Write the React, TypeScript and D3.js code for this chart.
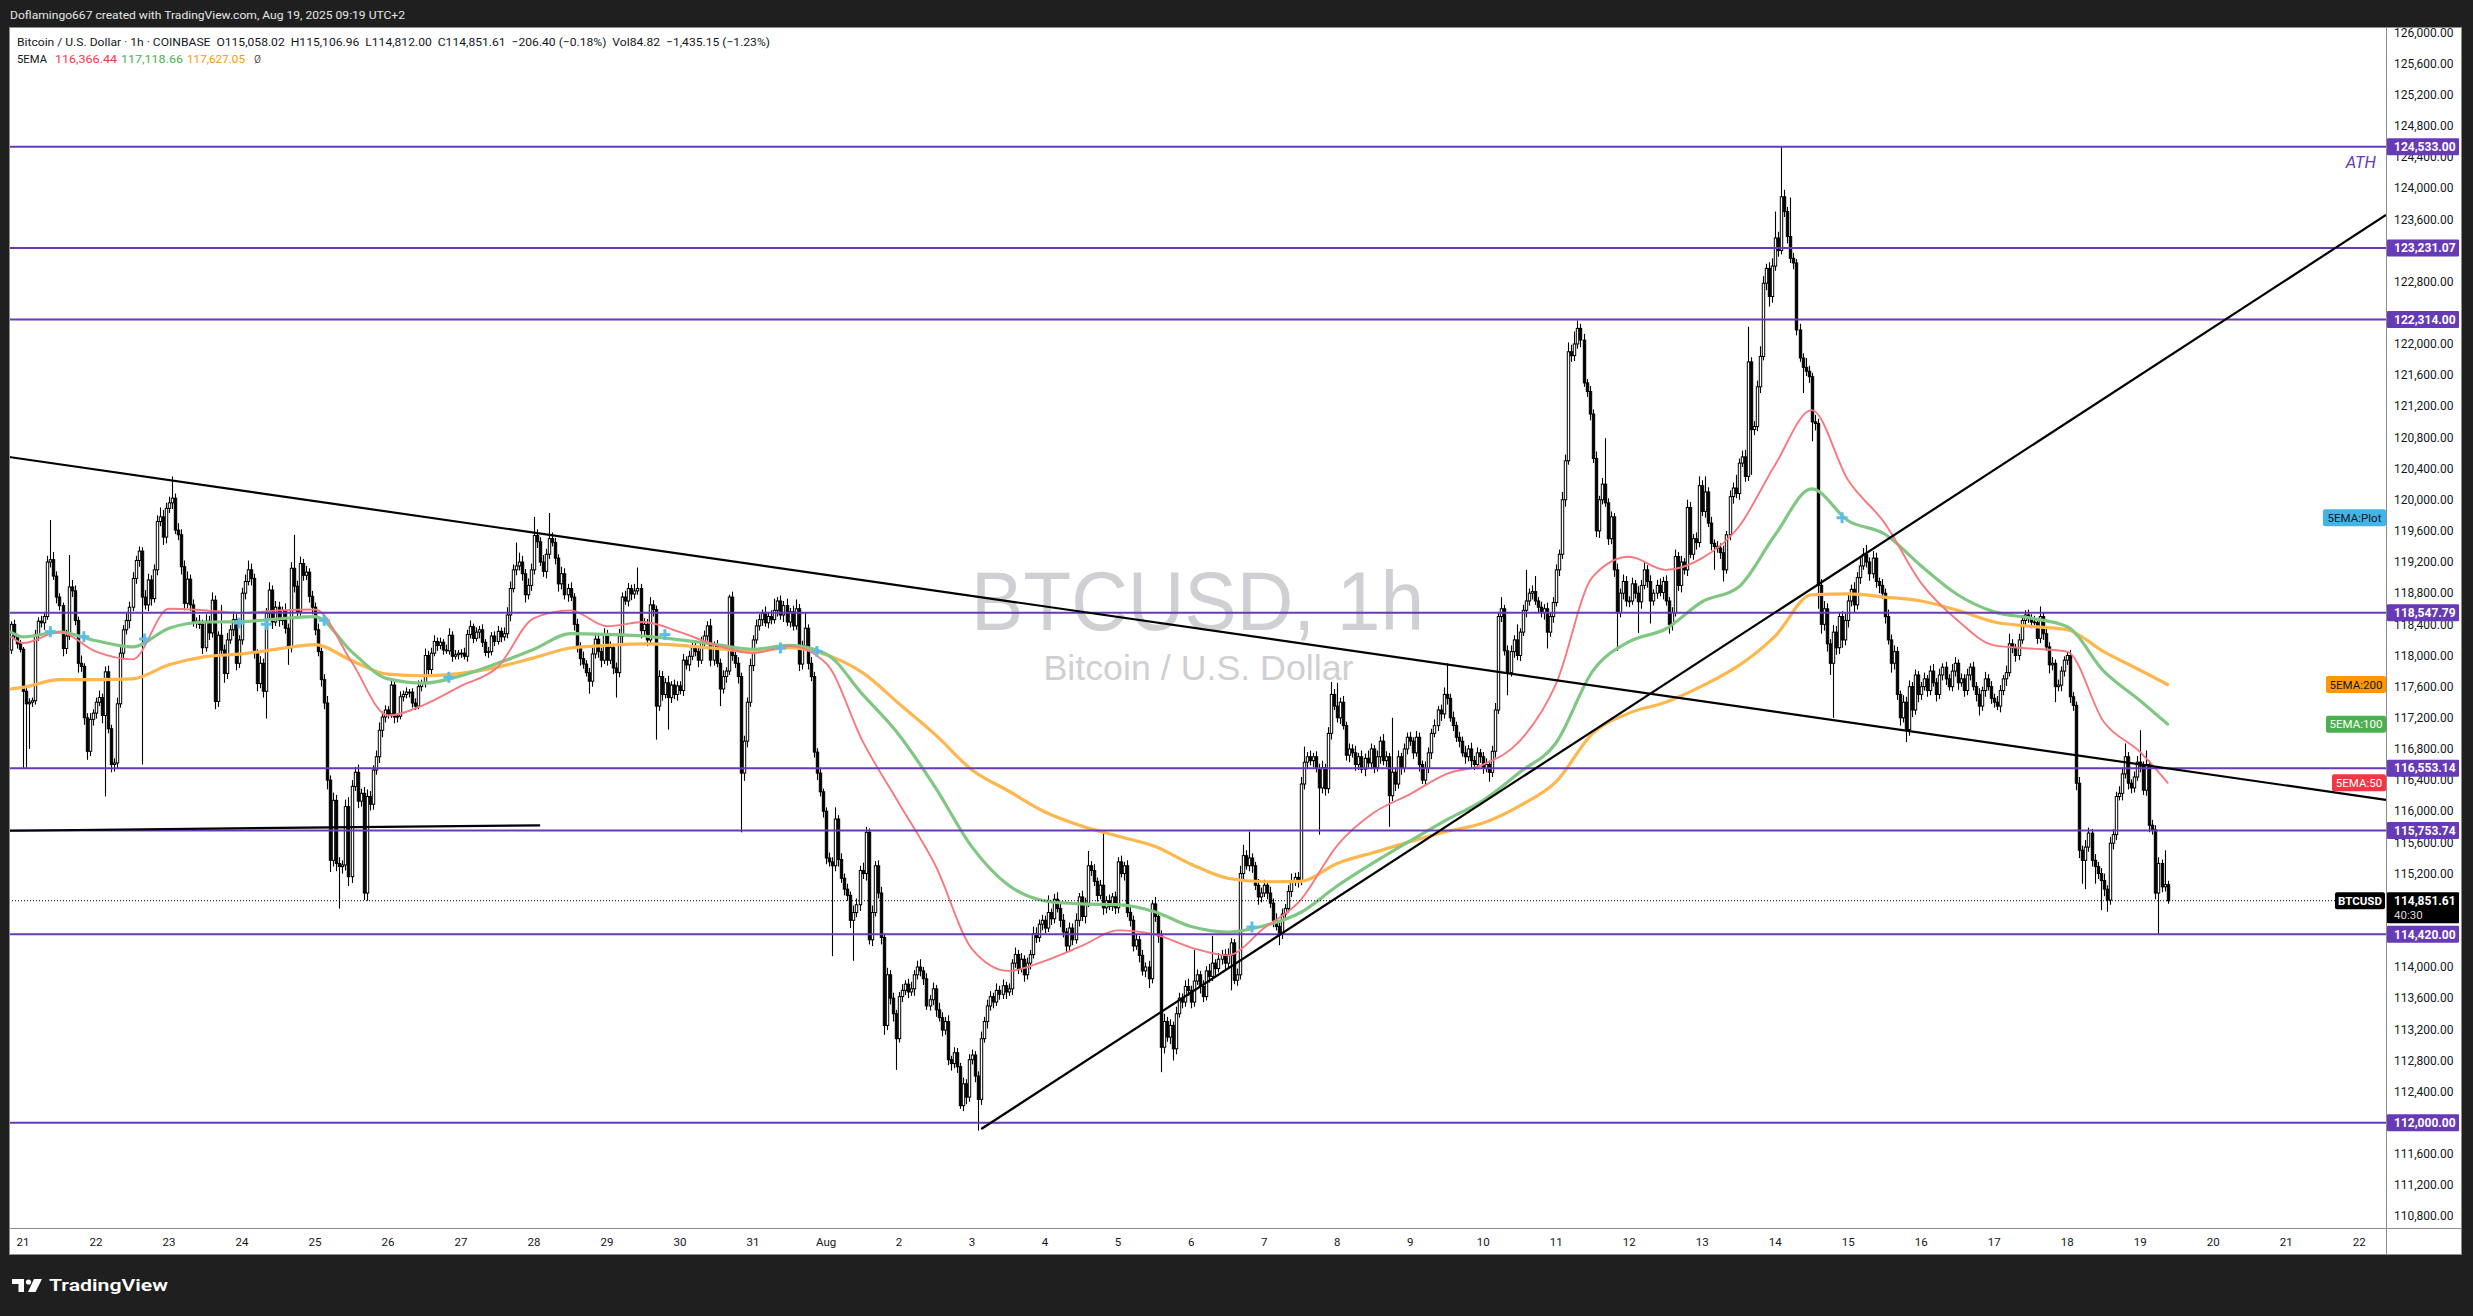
import * as d3 from "d3";
import { useEffect, useRef } from "react";

// BTCUSD 1h candles, Jul 20 20:00 -> Aug 19 09:00. open = previous close.
const FIRST_OPEN = 118070;

const closesByDay: number[][] = [
  [118400, 118250, 118150, 118080], // Jul 20
  [117540, 117380, 117400, 117420, 118270, 118440, 118420, 118500, 119200, 119230, 119020, 118750, 118640, 118090, 118250, 118880, 118830, 118450, 117900, 117860, 117200, 116770, 117180, 117260],
  [117400, 117460, 117230, 117790, 117060, 116600, 116620, 117380, 118030, 118330, 118450, 118620, 118990, 119220, 119340, 118750, 118650, 118970, 118730, 119100, 119720, 119780, 119520, 119890],
  [119960, 120020, 119610, 119550, 119140, 118670, 118980, 118650, 118420, 118440, 118400, 118100, 118440, 118290, 118710, 117410, 118260, 118070, 117770, 118200, 118330, 118460, 117900, 118200],
  [118800, 118950, 119100, 118990, 118030, 117640, 117900, 117540, 118540, 118840, 118430, 118620, 118450, 118580, 118350, 118100, 119120, 118890, 118560, 119180, 119030, 119070, 118760, 118620],
  [118330, 118050, 117690, 117390, 116400, 115370, 116140, 115330, 115290, 115310, 116060, 115160, 116320, 116500, 116130, 116230, 114950, 116190, 116090, 116530, 116700, 117040, 117210, 117300],
  [117250, 117620, 117210, 117220, 117470, 117500, 117530, 117530, 117390, 117350, 117600, 117640, 118000, 117820, 118030, 118180, 118130, 118170, 118070, 118060, 118260, 117990, 118010, 118030],
  [118030, 117990, 118270, 118370, 118220, 118300, 118330, 118170, 118040, 118050, 118250, 118180, 118310, 118240, 118280, 118520, 118860, 119100, 119150, 119200, 119050, 118780, 118900, 119100],
  [119540, 119460, 119200, 119080, 119300, 119500, 119450, 119250, 118920, 119050, 118780, 118860, 118750, 118400, 118110, 117960, 117890, 117780, 117670, 118020, 118210, 118050, 117940, 118270],
  [117940, 118100, 117840, 117780, 118250, 118750, 118700, 118860, 118790, 118830, 118860, 118320, 118400, 118200, 118650, 118590, 117350, 117730, 117500, 117650, 117460, 117620, 117500, 117610],
  [117550, 117940, 117880, 117990, 118100, 118050, 117940, 118160, 118250, 118380, 117940, 118130, 117900, 117570, 117730, 117800, 118750, 118000, 117900, 117730, 116490, 116900, 117400, 117870],
  [118200, 118380, 118460, 118540, 118420, 118500, 118460, 118580, 118700, 118520, 118640, 118430, 118560, 118380, 118600, 117890, 118120, 118350, 117900, 117730, 116760, 116490, 116250, 116000],
  [115400, 115350, 115300, 115900, 115380, 115140, 115000, 114920, 114600, 114700, 114800, 115240, 115200, 115730, 114350, 114700, 115300, 114950, 114380, 113250, 113900, 113600, 113400, 113080],
  [113620, 113700, 113780, 113680, 113720, 113900, 114000, 113950, 113850, 113500, 113580, 113720, 113450, 113350, 113190, 113300, 112810, 112760, 112900, 112720, 112220, 112500, 112330, 112810],
  [112870, 112600, 112300, 113080, 113300, 113500, 113620, 113550, 113700, 113650, 113760, 113680, 113720, 114050, 114160, 113980, 114100, 113900, 114050, 114160, 114430, 114380, 114550, 114600],
  [114500, 114700, 114620, 114870, 114750, 114600, 114450, 114270, 114500, 114350, 114600, 114900, 114650, 114820, 115300, 115240, 115100, 114920, 115050, 114760, 114850, 114780, 114900, 114760],
  [115350, 115200, 115300, 114700, 114600, 114270, 114350, 114150, 113950, 114000, 113850, 114810, 114650, 114400, 112970, 113300, 113100, 113250, 112950, 113400, 113600, 113550, 113750, 113700],
  [113550, 113820, 113900, 113750, 113620, 113950, 113880, 114050, 113980, 114100, 114160, 114050, 114150, 114310, 113830, 113900, 115200, 115430, 115300, 115400, 115300, 115050, 114900, 114950],
  [115050, 114950, 114820, 114600, 114520, 114420, 114680, 114750, 114970, 115100, 115150, 115100, 116350, 116630, 116700, 116650, 116700, 116550, 116300, 116560, 116290, 117000, 117500, 117350],
  [117200, 117400, 117100, 116720, 116800, 116750, 116600, 116700, 116540, 116680, 116620, 116800, 116560, 116700, 116900, 116650, 116700, 116200, 116500, 116350, 116700, 116550, 116800, 116950],
  [116900, 116750, 116950, 116600, 116400, 116550, 116750, 117000, 117100, 117300, 117250, 117500, 117450, 117200, 117100, 116950, 116900, 116750, 116700, 116800, 116650, 116600, 116750, 116700],
  [116550, 116600, 116500, 116770, 117300, 118500, 118600, 118060, 117780, 118050, 118200, 118000, 118300, 118580, 118700, 118800, 118820, 118700, 118620, 118550, 118600, 118300, 118500, 118680],
  [119100, 119300, 120000, 120500, 121900, 121850, 122000, 122200, 122050, 121500, 121390, 121100, 120530, 119600, 120000, 120200, 119960, 119500, 119780, 119100, 118550, 118800, 118950, 118700],
  [118700, 118920, 118800, 118690, 118900, 119100, 118950, 118700, 118800, 118900, 118810, 118950, 118700, 118400, 118550, 119270, 118900, 119200, 119100, 119900, 119300, 119500, 119450, 120180],
  [119850, 120100, 119700, 119440, 119400, 119380, 119320, 119100, 119550, 120040, 120150, 120080, 120470, 120550, 120300, 121770, 120900, 120940, 121450, 121840, 122780, 122970, 122610, 123000],
  [123360, 123200, 123890, 123700, 123380, 123100, 123040, 122180, 121820, 121700, 121650, 121580, 121000, 120980, 118900, 118400, 118600, 118150, 117900, 118300, 118100, 118500, 118200, 118450],
  [118700, 118850, 118650, 119000, 119150, 119300, 119200, 119050, 119250, 118950, 118900, 118800, 118500, 118200, 117900, 118050, 117500, 117200, 117400, 117050, 117600, 117300, 117750, 117500],
  [117600, 117700, 117550, 117800, 117650, 117500, 117750, 117850, 117700, 117600, 117800, 117900, 117650, 117700, 117550, 117750, 117850, 117600, 117500, 117350, 117550, 117700, 117600, 117450],
  [117400, 117350, 117550, 117700, 117780, 118150, 118100, 118000, 118200, 118450, 118520, 118480, 118430, 118420, 118220, 118500, 118280, 118110, 117880, 117900, 117600, 117620, 117800, 117940],
  [118000, 117470, 117360, 116360, 115500, 115370, 115540, 115720, 115370, 115290, 115200, 115110, 115000, 114860, 115590, 115700, 116190, 116230, 116480, 116700, 116360, 116300, 116440, 116630],
  [116580, 116270, 116600, 115820, 115760, 114950, 115330, 115030, 115058.02, 114851.61], // Aug 19
];

// upper / lower wick beyond the body, in units of $10
const upWickByDay: number[][] = [
  [4, 6, 3, 5],
  [3, 8, 5, 4, 6, 5, 7, 6, 8, 51, 10, 6, 5, 4, 8, 41, 9, 7, 5, 10, 4, 6, 8, 5],
  [6, 9, 5, 7, 8, 5, 6, 8, 10, 6, 9, 7, 8, 6, 6, 5, 9, 8, 6, 7, 8, 12, 9, 7],
  [8, 28, 6, 9, 7, 8, 10, 6, 7, 5, 8, 6, 9, 7, 10, 6, 5, 39, 7, 9, 6, 8, 7, 6],
  [7, 9, 12, 8, 6, 5, 9, 6, 7, 10, 6, 8, 7, 5, 9, 6, 8, 43, 7, 9, 6, 8, 5, 7],
  [6, 8, 5, 7, 9, 6, 10, 7, 8, 6, 9, 12, 8, 7, 10, 6, 8, 9, 7, 6, 8, 10, 7, 6],
  [5, 8, 6, 4, 7, 5, 6, 4, 5, 6, 8, 5, 9, 6, 7, 8, 5, 6, 4, 7, 9, 5, 6, 4],
  [5, 7, 6, 8, 4, 6, 5, 7, 4, 6, 5, 6, 7, 5, 8, 10, 9, 7, 30, 12, 8, 6, 9, 8],
  [24, 8, 6, 9, 7, 33, 8, 6, 5, 9, 7, 6, 8, 5, 7, 6, 9, 5, 6, 8, 7, 6, 5, 8],
  [6, 8, 5, 7, 9, 6, 8, 7, 5, 9, 27, 6, 8, 7, 10, 6, 5, 8, 7, 6, 9, 5, 7, 6],
  [6, 8, 5, 7, 6, 9, 5, 8, 7, 6, 9, 5, 7, 6, 8, 5, 3, 7, 6, 8, 5, 7, 6, 9],
  [6, 8, 7, 5, 9, 6, 8, 15, 5, 7, 6, 9, 5, 8, 12, 6, 7, 20, 5, 8, 6, 5, 7, 4],
  [5, 7, 6, 15, 5, 8, 6, 7, 5, 9, 8, 6, 10, 7, 5, 9, 6, 7, 8, 5, 9, 6, 7, 5],
  [6, 8, 5, 7, 9, 6, 8, 10, 5, 7, 6, 8, 5, 9, 7, 6, 8, 5, 7, 6, 5, 8, 6, 7],
  [7, 5, 6, 9, 6, 8, 7, 5, 9, 6, 8, 5, 7, 5, 9, 6, 8, 5, 7, 6, 9, 8, 6, 7],
  [6, 22, 5, 7, 9, 6, 8, 5, 7, 6, 9, 5, 8, 7, 19, 6, 8, 5, 7, 68, 6, 8, 5, 7],
  [6, 8, 5, 7, 9, 6, 8, 5, 7, 6, 8, 5, 9, 6, 7, 10, 6, 8, 5, 9, 7, 6, 8, 10],
  [6, 40, 7, 5, 8, 6, 9, 35, 5, 8, 6, 7, 9, 6, 5, 8, 10, 14, 7, 34, 6, 5, 8, 7],
  [7, 5, 8, 6, 9, 5, 7, 6, 8, 10, 6, 7, 9, 20, 6, 8, 5, 7, 6, 9, 5, 8, 16, 7],
  [30, 6, 8, 5, 7, 6, 9, 5, 8, 6, 10, 7, 5, 8, 6, 9, 7, 5, 70, 6, 8, 5, 7, 6],
  [7, 5, 8, 6, 5, 9, 7, 6, 8, 5, 7, 9, 40, 6, 8, 5, 7, 6, 9, 5, 8, 6, 7, 5],
  [6, 8, 5, 7, 9, 6, 15, 5, 7, 8, 6, 20, 5, 7, 40, 6, 8, 20, 5, 7, 6, 8, 5, 7],
  [7, 6, 10, 8, 12, 9, 16, 10, 6, 8, 5, 7, 6, 9, 5, 8, 59, 6, 7, 5, 8, 6, 9, 7],
  [6, 8, 5, 9, 7, 10, 6, 8, 5, 7, 9, 6, 8, 5, 7, 9, 6, 8, 5, 10, 7, 6, 8, 12],
  [7, 20, 6, 8, 5, 7, 6, 9, 5, 8, 7, 17, 6, 8, 9, 45, 6, 7, 8, 13, 9, 6, 8, 10],
  [34, 8, 64.3, 9, 6, 50, 7, 5, 8, 6, 12, 7, 5, 9, 6, 8, 10, 7, 6, 9, 8, 6, 7, 9],
  [8, 6, 9, 7, 10, 8, 12, 6, 9, 7, 5, 8, 6, 9, 7, 8, 6, 5, 9, 7, 8, 6, 7, 5],
  [6, 8, 5, 7, 9, 6, 8, 5, 7, 6, 9, 8, 5, 7, 6, 8, 5, 7, 6, 8, 5, 9, 6, 7],
  [6, 8, 7, 5, 9, 13, 6, 5, 8, 7, 6, 7, 5, 8, 6, 13, 5, 7, 6, 8, 5, 7, 6, 5],
  [5, 7, 6, 5, 8, 6, 9, 7, 5, 8, 6, 7, 9, 5, 8, 7, 6, 9, 8, 17, 6, 5, 7, 8],
  [41, 6, 18, 5, 7, 6, 8, 5, 44, 4.894],
];

const dnWickByDay: number[][] = [
  [5, 4, 6, 4],
  [99, 82, 58, 6, 5, 8, 6, 9, 4, 7, 5, 8, 6, 10, 7, 5, 8, 6, 12, 7, 9, 11, 6, 8],
  [7, 5, 10, 104, 6, 10, 9, 7, 5, 8, 6, 10, 5, 7, 8, 215, 6, 8, 9, 5, 7, 6, 10, 8],
  [6, 8, 5, 7, 10, 9, 6, 8, 5, 7, 6, 8, 5, 9, 6, 10, 7, 6, 12, 7, 5, 8, 9, 6],
  [6, 8, 5, 9, 7, 10, 6, 8, 35, 6, 9, 5, 8, 6, 7, 22, 6, 8, 9, 5, 7, 6, 8, 9],
  [7, 6, 9, 8, 12, 15, 8, 10, 54, 9, 7, 12, 8, 6, 9, 7, 9, 10, 8, 7, 6, 8, 9, 7],
  [6, 5, 8, 7, 4, 6, 5, 7, 6, 5, 4, 6, 5, 8, 6, 4, 7, 5, 6, 4, 5, 7, 4, 6],
  [6, 4, 7, 5, 6, 4, 8, 6, 5, 7, 5, 6, 4, 7, 5, 6, 8, 5, 7, 6, 9, 10, 6, 7],
  [6, 8, 5, 7, 9, 6, 5, 8, 10, 7, 6, 9, 5, 8, 7, 9, 6, 5, 16, 7, 6, 8, 9, 5],
  [7, 5, 8, 32, 6, 9, 5, 7, 8, 6, 5, 10, 7, 8, 6, 9, 43, 6, 8, 5, 41, 7, 6, 8],
  [5, 7, 6, 8, 5, 6, 9, 5, 7, 6, 8, 7, 5, 22, 6, 8, 5, 7, 6, 9, 76, 10, 8, 6],
  [7, 5, 6, 8, 5, 7, 6, 5, 8, 6, 9, 5, 7, 6, 5, 9, 7, 6, 8, 6, 7, 9, 6, 8],
  [8, 6, 116, 7, 9, 6, 8, 7, 10, 52, 6, 8, 7, 9, 6, 8, 5, 7, 9, 12, 6, 8, 10, 40],
  [5, 7, 6, 8, 5, 9, 6, 7, 8, 5, 6, 7, 9, 5, 8, 6, 7, 9, 6, 8, 4, 7, 9, 6],
  [6, 8, 40, 7, 5, 9, 6, 8, 5, 7, 6, 9, 5, 8, 6, 7, 5, 9, 6, 8, 5, 7, 6, 8],
  [7, 5, 8, 6, 5, 9, 7, 8, 6, 7, 5, 8, 6, 9, 5, 7, 6, 8, 5, 9, 7, 5, 6, 8],
  [7, 5, 9, 6, 8, 7, 5, 9, 6, 8, 12, 6, 7, 9, 32, 8, 6, 9, 15, 7, 5, 8, 6, 7],
  [8, 6, 5, 9, 7, 5, 8, 6, 9, 5, 7, 8, 6, 45, 5, 7, 6, 8, 5, 7, 9, 6, 10, 7],
  [5, 8, 6, 9, 5, 14, 6, 8, 5, 7, 6, 8, 5, 7, 9, 6, 8, 5, 60, 7, 9, 6, 8, 5],
  [6, 8, 5, 7, 9, 6, 8, 7, 5, 9, 6, 8, 7, 5, 9, 6, 8, 40, 7, 9, 6, 8, 5, 7],
  [6, 8, 5, 9, 5, 7, 6, 8, 5, 7, 9, 6, 8, 5, 7, 6, 8, 5, 9, 6, 10, 7, 6, 8],
  [7, 5, 12, 6, 8, 5, 7, 6, 29, 5, 8, 6, 7, 5, 9, 6, 8, 5, 7, 6, 9, 21, 6, 8],
  [5, 8, 6, 9, 5, 8, 7, 6, 9, 5, 7, 8, 6, 8, 9, 6, 5, 8, 7, 9, 49, 6, 8, 7],
  [8, 5, 7, 40, 9, 5, 8, 29, 6, 7, 5, 9, 6, 12, 8, 5, 7, 9, 6, 8, 5, 7, 9, 6],
  [6, 8, 5, 9, 30, 6, 8, 15, 5, 7, 9, 6, 8, 5, 7, 6, 58, 7, 6, 8, 5, 9, 13, 8],
  [6, 8, 5, 7, 9, 6, 8, 7, 5, 33, 6, 8, 25, 9, 30, 12, 8, 10, 15, 70, 9, 8, 10, 7],
  [9, 7, 10, 6, 8, 5, 7, 9, 6, 8, 10, 7, 9, 6, 12, 8, 7, 10, 6, 16, 8, 9, 6, 10],
  [7, 5, 8, 6, 5, 9, 6, 7, 8, 5, 6, 7, 9, 5, 8, 6, 7, 5, 9, 12, 6, 8, 5, 7],
  [7, 5, 8, 6, 9, 5, 7, 8, 6, 5, 7, 6, 8, 5, 7, 6, 8, 5, 11, 7, 20, 6, 8, 7],
  [6, 8, 7, 9, 10, 30, 37, 6, 8, 22, 7, 38, 9, 15, 6, 8, 7, 5, 9, 6, 8, 7, 6, 5],
  [8, 6, 7, 9, 6, 8, 53, 7, 6, 3.961],
];

// hours after Jul 21 00:00
const emaHours = [-4, 0, 12, 24, 36, 48, 60, 72, 84, 96, 108, 120, 132, 144, 156, 168, 180, 192, 204, 216, 228, 240, 252, 264, 276, 288, 300, 312, 324, 336, 348, 360, 372, 384, 396, 408, 420, 432, 444, 456, 468, 480, 492, 504, 516, 528, 540, 552, 564, 576, 588, 600, 612, 624, 636, 648, 660, 672, 684, 696, 705];
const ema50 = [118240, 118160, 118300, 118050, 117950, 118600, 118580, 118545, 118580, 118590, 117920, 117230, 117370, 117610, 117850, 118480, 118580, 118376, 118430, 118300, 118130, 118030, 118120, 117900, 116900, 116100, 115300, 114230, 113950, 114080, 114270, 114470, 114420, 114250, 114150, 114500, 114860, 115560, 115980, 116220, 116480, 116600, 116900, 117640, 119010, 119267, 119100, 119250, 119650, 120450, 121150, 120250, 119700, 118930, 118450, 118130, 118090, 118050, 117150, 116760, 116366.44];
const ema100 = [118300, 118240, 118300, 118190, 118110, 118350, 118430, 118435, 118470, 118500, 118050, 117700, 117645, 117740, 117900, 118080, 118280, 118270, 118250, 118200, 118140, 118080, 118130, 118020, 117500, 116980, 116300, 115540, 115050, 114850, 114811, 114800, 114710, 114520, 114450, 114530, 114700, 115040, 115340, 115620, 115890, 116140, 116500, 116880, 117800, 118178, 118340, 118690, 118880, 119550, 120140, 119730, 119560, 119150, 118780, 118560, 118480, 118370, 117800, 117420, 117118.66];
const ema200 = [117570, 117590, 117690, 117690, 117700, 117880, 117985, 118020, 118085, 118140, 117935, 117760, 117740, 117770, 117850, 117970, 118096, 118130, 118148, 118130, 118090, 118055, 118100, 118010, 117780, 117380, 116980, 116530, 116260, 115990, 115810, 115680, 115550, 115320, 115140, 115095, 115100, 115330, 115470, 115610, 115740, 115850, 116070, 116380, 117000, 117260, 117400, 117610, 117870, 118250, 118780, 118790, 118750, 118700, 118580, 118430, 118375, 118330, 118050, 117810, 117627.05];

// 5EMA "Plot" cross markers
const plotHours = [9, 20, 40, 71, 80, 99, 140, 211, 249, 261, 404, 598];
const plotPrices = [118306, 118241, 118212, 118417, 118401, 118452, 117720, 118268, 118096, 118051, 114514, 119769];

const levels = [124533, 123231.07, 122314, 118547.79, 116553.14, 115753.74, 114420, 112000];

const trendDown = [{ h: -4.6, p: 120549 }, { h: 776.8, p: 116146 }];
const trendUp = [{ h: 315, p: 111920 }, { h: 776.8, p: 123656 }];
const flatLine = [{ h: -4.6, p: 115750 }, { h: 170, p: 115820 }];

const priceTicks = d3.range(110800, 126001, 400);
const lastPrice = 114851.61;

const emaTags = [
  { label: "5EMA:Plot", value: 119769, bg: "#42b4e6", fg: "#131722", w: 63 },
  { label: "5EMA:200", value: 117627.05, bg: "#ff9800", fg: "#131722", w: 60 },
  { label: "5EMA:100", value: 117118.66, bg: "#4caf50", fg: "#ffffff", w: 60 },
  { label: "5EMA:50", value: 116366.44, bg: "#f23645", fg: "#ffffff", w: 54 },
];

export default function App() {
  const ref = useRef<SVGSVGElement | null>(null);

  useEffect(() => {
    const el = ref.current;
    if (!el) return;
    const svg = d3.select(el);
    svg.selectAll("*").remove();

    const W = 2473;
    const H = 1316;
    const L = 9, T = 27, R = 2386, B = 1228, PR = 2462, PB = 1255;
    const font = "Roboto, 'Liberation Sans', sans-serif";
    const ink = "#131722";
    const purple = "#673ab7";

    const T0 = Date.UTC(2025, 6, 21);
    const at = (h: number) => new Date(T0 + h * 3600e3);
    const x = d3.scaleUtc().domain([at(-4.6), at(776.8)]).range([L, R]);
    const y = d3.scaleLinear().domain([110649, 126070]).range([B, T]);
    const fmt = d3.format(",.2f");

    svg.attr("width", W).attr("height", H).attr("viewBox", `0 0 ${W} ${H}`);
    svg.append("rect").attr("width", W).attr("height", H).attr("fill", "#1f1f1f");

    svg.append("text")
      .attr("x", 10).attr("y", 19)
      .attr("fill", "#e6e6e6").attr("font-family", font).attr("font-size", 11.5)
      .attr("textLength", 395).attr("lengthAdjust", "spacingAndGlyphs")
      .text("Doflamingo667 created with TradingView.com, Aug 19, 2025 09:19 UTC+2");

    svg.append("rect")
      .attr("x", L).attr("y", T).attr("width", PR - L).attr("height", PB - T)
      .attr("fill", "#ffffff");

    const defs = svg.append("defs");
    defs.append("clipPath").attr("id", "plotClip")
      .append("rect").attr("x", L).attr("y", T).attr("width", R - L).attr("height", B - T);

    // watermark
    svg.append("text")
      .attr("x", 1197.5).attr("y", 630).attr("text-anchor", "middle")
      .attr("font-family", "'Liberation Sans', Arial, sans-serif").attr("font-size", 84)
      .attr("fill", "#cfcfd4").attr("textLength", 453).attr("lengthAdjust", "spacingAndGlyphs")
      .text("BTCUSD, 1h");
    svg.append("text")
      .attr("x", 1198.5).attr("y", 680).attr("text-anchor", "middle")
      .attr("font-family", "'Liberation Sans', Arial, sans-serif").attr("font-size", 35)
      .attr("fill", "#cfcfd4").attr("textLength", 310).attr("lengthAdjust", "spacingAndGlyphs")
      .text("Bitcoin / U.S. Dollar");

    const plot = svg.append("g").attr("clip-path", "url(#plotClip)");

    // candles
    const closes = closesByDay.flat();
    const ups = upWickByDay.flat();
    const dns = dnWickByDay.flat();
    const candles = closes.map((c, i) => {
      const o = i ? closes[i - 1] : FIRST_OPEN;
      return {
        t: at(i - 4),
        o,
        c,
        hi: Math.max(o, c) + ups[i] * 10,
        lo: Math.min(o, c) - dns[i] * 10,
      };
    });

    const cg = plot.append("g");
    cg.selectAll("line.wick")
      .data(candles)
      .join("line")
      .attr("class", "wick")
      .attr("x1", (d) => Math.round(x(d.t)) + 0.5).attr("x2", (d) => Math.round(x(d.t)) + 0.5)
      .attr("y1", (d) => y(d.hi)).attr("y2", (d) => y(d.lo))
      .attr("stroke", "#000").attr("stroke-width", 1.1);
    cg.selectAll("rect.body")
      .data(candles)
      .join("rect")
      .attr("class", "body")
      .attr("x", (d) => Math.round(x(d.t)) - 0.7)
      .attr("width", 2.4)
      .attr("y", (d) => y(Math.max(d.o, d.c)))
      .attr("height", (d) => Math.max(0.8, Math.abs(y(d.o) - y(d.c))))
      .attr("fill", (d) => (d.c >= d.o ? "#ffffff" : "#000000"))
      .attr("stroke", "#000").attr("stroke-width", 1);

    // EMAs
    const emaLine = d3.line<[number, number]>()
      .x((d) => x(at(d[0])))
      .y((d) => y(d[1]))
      .curve(d3.curveMonotoneX);
    const emaSeries: [number[], string, number][] = [
      [ema200, "#ffb74d", 3.2],
      [ema100, "#81c784", 3.2],
      [ema50, "#f7787e", 1.9],
    ];
    emaSeries.forEach(([vals, color, w]) => {
      plot.append("path")
        .datum(emaHours.map((h, i) => [h, vals[i]] as [number, number]))
        .attr("fill", "none").attr("stroke", color).attr("stroke-width", w)
        .attr("stroke-linejoin", "round").attr("stroke-linecap", "round")
        .attr("d", emaLine);
    });

    // plot crosses
    const cross = plot.append("g").attr("stroke", "#5cbde8").attr("stroke-width", 3);
    plotHours.forEach((h, i) => {
      const cx = x(at(h));
      const cy = y(plotPrices[i]);
      cross.append("line").attr("x1", cx - 5.5).attr("x2", cx + 5.5).attr("y1", cy).attr("y2", cy);
      cross.append("line").attr("x1", cx).attr("x2", cx).attr("y1", cy - 5.5).attr("y2", cy + 5.5);
    });

    // horizontal levels
    plot.selectAll("line.level")
      .data(levels)
      .join("line")
      .attr("class", "level")
      .attr("x1", L).attr("x2", R)
      .attr("y1", (d) => y(d)).attr("y2", (d) => y(d))
      .attr("stroke", purple).attr("stroke-width", 2);

    // trend lines
    const tl = d3.line<{ h: number; p: number }>().x((d) => x(at(d.h))).y((d) => y(d.p));
    [trendDown, trendUp, flatLine].forEach((pts) => {
      plot.append("path").datum(pts)
        .attr("fill", "none").attr("stroke", "#000").attr("stroke-width", 2.2)
        .attr("d", tl);
    });

    // last price dotted line
    svg.append("line")
      .attr("x1", L).attr("x2", 2335)
      .attr("y1", y(lastPrice)).attr("y2", y(lastPrice))
      .attr("stroke", "#000").attr("stroke-width", 1).attr("stroke-dasharray", "1,2");

    // frame lines
    const grey = "#8c8c8c";
    svg.append("rect")
      .attr("x", L + 0.5).attr("y", T + 0.5).attr("width", PR - L - 1).attr("height", PB - T - 1)
      .attr("fill", "none").attr("stroke", grey).attr("stroke-width", 1);
    svg.append("line").attr("x1", R + 0.5).attr("x2", R + 0.5).attr("y1", T).attr("y2", PB)
      .attr("stroke", grey).attr("stroke-width", 1);
    svg.append("line").attr("x1", L).attr("x2", PR).attr("y1", B + 0.5).attr("y2", B + 0.5)
      .attr("stroke", grey).attr("stroke-width", 1);

    // price axis ticks (ones almost fully covered by a tag are hidden, as on the chart)
    const tagValues = [...levels, lastPrice];
    const visibleTicks = priceTicks.filter(
      (v) => !tagValues.some((tv) => Math.abs(y(v) - y(tv)) < 7.5),
    );
    const axisG = svg.append("g").attr("font-family", font).attr("font-size", 12).attr("fill", ink);
    axisG.selectAll("text")
      .data(visibleTicks)
      .join("text")
      .attr("x", 2394).attr("y", (d) => y(d) + 4.2)
      .text((d) => fmt(d));

    // time axis
    const days = d3.utcDay.range(at(0), at(32 * 24 + 1));
    svg.append("g").attr("font-family", font).attr("font-size", 11.5).attr("fill", ink)
      .selectAll("text")
      .data(days)
      .join("text")
      .attr("x", (d) => x(d)).attr("y", 1246).attr("text-anchor", "middle")
      .text((d) => (d.getUTCDate() === 1 ? d3.utcFormat("%b")(d) : String(d.getUTCDate())));

    // level price tags
    const tagG = svg.append("g").attr("font-family", font);
    levels.forEach((v) => {
      tagG.append("rect").attr("x", R + 1).attr("y", y(v) - 8.5).attr("width", 72).attr("height", 17)
        .attr("rx", 1).attr("fill", purple);
      tagG.append("text").attr("x", 2394).attr("y", y(v) + 4.3)
        .attr("fill", "#fff").attr("font-size", 12).attr("font-weight", 700)
        .text(fmt(v));
    });

    // last price tag
    const ly = y(lastPrice);
    tagG.append("rect").attr("x", R + 1).attr("y", ly - 8.5).attr("width", 72).attr("height", 31)
      .attr("rx", 1).attr("fill", "#000");
    tagG.append("text").attr("x", 2394).attr("y", ly + 4.3)
      .attr("fill", "#fff").attr("font-size", 12).attr("font-weight", 700).text(fmt(lastPrice));
    tagG.append("text").attr("x", 2394).attr("y", ly + 18)
      .attr("fill", "#d8d8d8").attr("font-size", 11.5).text("40:30");
    tagG.append("rect").attr("x", 2335).attr("y", ly - 8.5).attr("width", 50).attr("height", 17)
      .attr("rx", 2).attr("fill", "#000");
    tagG.append("text").attr("x", 2360).attr("y", ly + 4.2).attr("text-anchor", "middle")
      .attr("fill", "#fff").attr("font-size", 11.5).attr("font-weight", 700).text("BTCUSD");

    // indicator tags
    emaTags.forEach((t) => {
      const ty = y(t.value);
      tagG.append("rect").attr("x", R - t.w).attr("y", ty - 8.5).attr("width", t.w).attr("height", 17)
        .attr("rx", 2).attr("fill", t.bg);
      tagG.append("text").attr("x", R - t.w / 2).attr("y", ty + 4.2).attr("text-anchor", "middle")
        .attr("fill", t.fg).attr("font-size", 11.5).text(t.label);
    });

    // ATH note
    svg.append("text").attr("x", 2376).attr("y", y(levels[0]) + 21).attr("text-anchor", "end")
      .attr("font-family", font).attr("font-size", 16.5).attr("font-style", "italic")
      .attr("fill", purple).text("ATH");

    // legend
    svg.append("text").attr("x", 17).attr("y", 46)
      .attr("font-family", font).attr("font-size", 11.5).attr("fill", ink)
      .attr("textLength", 753).attr("lengthAdjust", "spacingAndGlyphs")
      .attr("xml:space", "preserve")
      .text("Bitcoin / U.S. Dollar · 1h · COINBASE  O115,058.02  H115,106.96  L114,812.00  C114,851.61  −206.40 (−0.18%)  Vol84.82  −1,435.15 (−1.23%)");
    const leg2 = [
      { t: "5EMA", x: 17, w: 30, c: ink },
      { t: "116,366.44", x: 55, w: 62, c: "#f23645" },
      { t: "117,118.66", x: 121, w: 62, c: "#4caf50" },
      { t: "117,627.05", x: 187, w: 58, c: "#ff9800" },
      { t: "Ø", x: 254, w: 7, c: "#555" },
    ];
    leg2.forEach((d) => {
      svg.append("text").attr("x", d.x).attr("y", 63)
        .attr("font-family", font).attr("font-size", 11.5).attr("fill", d.c)
        .attr("textLength", d.w).attr("lengthAdjust", "spacingAndGlyphs")
        .text(d.t);
    });

    // footer logo
    const logo = svg.append("g").attr("fill", "#ffffff");
    logo.append("path").attr("d", "M12 1279 h12 v13 h-5.5 v-8 h-6.5 z");
    logo.append("circle").attr("cx", 28.5).attr("cy", 1282).attr("r", 2.6);
    logo.append("path").attr("d", "M34 1279 h8 l-6.5 13 h-7.5 z");
    svg.append("text").attr("x", 49).attr("y", 1291)
      .attr("font-family", font).attr("font-size", 17).attr("font-weight", 600)
      .attr("fill", "#ffffff").attr("textLength", 119).attr("lengthAdjust", "spacingAndGlyphs")
      .text("TradingView");
  }, []);

  return (
    <svg
      ref={ref}
      style={{ position: "absolute", left: 0, top: 0, display: "block" }}
    />
  );
}
